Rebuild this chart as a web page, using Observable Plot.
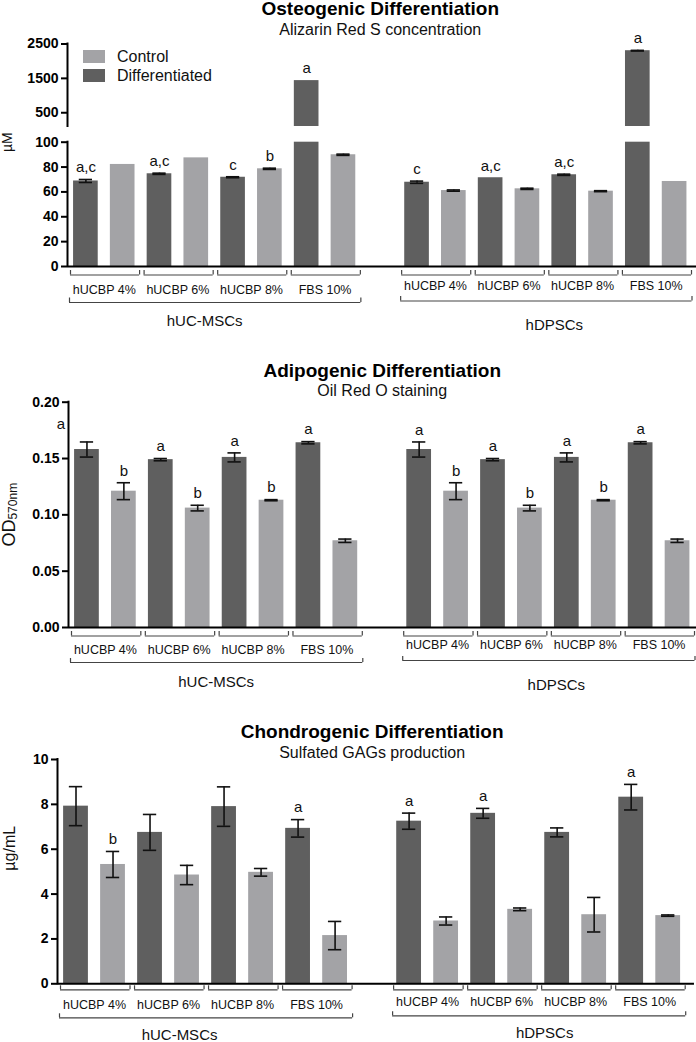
<!DOCTYPE html>
<html>
<head>
<meta charset="utf-8">
<script src="https://cdn.jsdelivr.net/npm/d3@7"></script>
<script src="https://cdn.jsdelivr.net/npm/@observablehq/plot@0.6"></script>
<style>
  body { margin: 0; background: #fff; }
  #wrap { position: relative; width: 696px; font-family: "Liberation Sans", Arial, Helvetica, sans-serif; }
  #wrap svg { display: block; }
  #wrap g[aria-label="y-axis tick label"] text { font-weight: bold; }
  .legend { position: absolute; left: 83px; top: 47px; font-size: 16px; color: #111; }
  .legend .row { display: flex; align-items: center; height: 19px; }
  .legend .sw { display: inline-block; width: 22px; height: 13px; margin-right: 12px; }
</style>
</head>
<body>
<div id="wrap"></div>
<script>
// ---------- categories ----------
const conditions = ["hUCBP 4%", "hUCBP 6%", "hUCBP 8%", "FBS 10%"];
const cellTypes = ["hUC-MSCs", "hDPSCs"];
const treatments = ["Differentiated", "Control"];

// ---------- Osteogenic: Alizarin Red S concentration (µM) ----------
const osteoUcDiff = [68.8, 74.6, 71.8, 1435];
const osteoUcDiffErr = [1.2, 0.5, 0.4, 0];
const osteoUcCtrl = [82.1, 87.4, 78.6, 89.9];
const osteoUcCtrlErr = [0, 0, 0.5, 0.5];
const osteoDpDiff = [67.8, 71.4, 73.8, 2305];
const osteoDpDiffErr = [0.9, 0, 0.5, 10];
const osteoDpCtrl = [61.1, 62.5, 60.6, 68.4];
const osteoDpCtrlErr = [0.5, 0.5, 0.4, 0];
const osteoUcDiffSig = ["a,c", "a,c", "c", "a"];
const osteoUcCtrlSig = ["", "", "b", ""];
const osteoDpDiffSig = ["c", "a,c", "a,c", "a"];
const osteoDpCtrlSig = ["", "", "", ""];
const osteoTicksLow = [0, 20, 40, 60, 80, 100];
const osteoTicksHigh = [500, 1500, 2500];

// ---------- Adipogenic: Oil Red O staining (OD570nm) ----------
const adipoUcDiff = [0.158, 0.149, 0.151, 0.164];
const adipoUcDiffErr = [0.0067, 0.001, 0.004, 0.001];
const adipoUcCtrl = [0.121, 0.106, 0.113, 0.077];
const adipoUcCtrlErr = [0.0075, 0.0025, 0.0005, 0.0015];
const adipoDpDiff = [0.158, 0.149, 0.151, 0.164];
const adipoDpDiffErr = [0.0067, 0.001, 0.004, 0.001];
const adipoDpCtrl = [0.121, 0.106, 0.113, 0.077];
const adipoDpCtrlErr = [0.0075, 0.0025, 0.0005, 0.0015];
const adipoUcDiffSig = ["a", "a", "a", "a"];
const adipoUcCtrlSig = ["b", "b", "b", ""];
const adipoDpDiffSig = ["a", "a", "a", "a"];
const adipoDpCtrlSig = ["b", "b", "b", ""];
const adipoTicks = [0, 0.05, 0.10, 0.15, 0.20];

// ---------- Chondrogenic: Sulfated GAGs production (µg/mL) ----------
const chondroUcDiff = [7.92, 6.75, 7.90, 6.93];
const chondroUcDiffErr = [0.87, 0.80, 0.88, 0.39];
const chondroUcCtrl = [5.32, 4.85, 4.97, 2.15];
const chondroUcCtrlErr = [0.58, 0.43, 0.17, 0.63];
const chondroDpDiff = [7.25, 7.60, 6.75, 8.32];
const chondroDpDiffErr = [0.36, 0.22, 0.20, 0.57];
const chondroDpCtrl = [2.80, 3.32, 3.08, 3.04];
const chondroDpCtrlErr = [0.18, 0.06, 0.77, 0.03];
const chondroUcDiffSig = ["", "", "", "a"];
const chondroUcCtrlSig = ["b", "", "", ""];
const chondroDpDiffSig = ["a", "a", "", "a"];
const chondroDpCtrlSig = ["", "", "", ""];
const chondroTicks = [0, 2, 4, 6, 8, 10];

// ---------- styling ----------
const DARK = "#5f5f5f";
const LIGHT = "#a3a3a6";
const FONT = "Liberation Sans, Arial, Helvetica, sans-serif";
const BRACKET = "#444";

function panel(cfg) {
  const rows = [];
  cellTypes.forEach((cell, g) => {
    conditions.forEach((cond, c) => {
      treatments.forEach((tr, t) => {
        const s = cfg.series[g][t];
        rows.push({cell, cond, treatment: tr, g, c, t, slot: g * 9 + c * 2 + t, v: s.v[c], e: s.e[c], sig: s.sig[c]});
      });
    });
  });
  const [lo, hi] = cfg.yDomain;
  const inSeg = d => (lo === 0 ? d.v >= 0 : d.v > lo) && d.v <= hi;
  const segs = rows.filter(d => d.v > lo).map(d => ({...d, y1: lo, y2: Math.min(d.v, hi)}));
  const errRows = rows.filter(d => d.e > 0 && inSeg(d));
  const isShift = d => cfg.sigShift && d.g === cfg.sigShift.g && d.c === cfg.sigShift.c && d.t === cfg.sigShift.t;
  const sigRows = rows.filter(d => d.sig && inSeg(d) && !isShift(d));
  const shiftRows = rows.filter(d => d.sig && inSeg(d) && isShift(d));

  const bw = 0.335, cap = 0.18;
  const marks = [
    Plot.rect(segs, {x1: d => d.slot - bw, x2: d => d.slot + bw, y1: "y1", y2: "y2", fill: "treatment"}),
    Plot.ruleX(errRows, {x: "slot", y1: d => d.v - d.e, y2: d => d.v + d.e, stroke: "#111", strokeWidth: 1.6}),
    Plot.ruleY(errRows, {y: d => d.v + d.e, x1: d => d.slot - cap, x2: d => d.slot + cap, stroke: "#111", strokeWidth: 1.6}),
    Plot.ruleY(errRows, {y: d => d.v - d.e, x1: d => d.slot - cap, x2: d => d.slot + cap, stroke: "#111", strokeWidth: 1.6}),
    Plot.text(sigRows, {x: "slot", y: d => d.v + d.e, text: "sig", dy: -12, fontSize: 15, lineAnchor: "middle", fill: "#111"}),
    Plot.text(shiftRows, {x: "slot", y: d => d.v + d.e, text: "sig", dx: cfg.sigShift ? cfg.sigShift.dx : 0, dy: cfg.sigShift ? cfg.sigShift.dy : 0, fontSize: 15, lineAnchor: "middle", fill: "#111"}),
    // y axis (line + ticks)
    Plot.ruleX([{y1: lo, y2: hi}], {x: -0.5, y1: "y1", y2: "y2", stroke: "#000", strokeWidth: 2, strokeLinecap: "square"}),
    Plot.axisY({ticks: cfg.ticks, tickFormat: cfg.tickFormat, tickSize: 6, tickPadding: 3, strokeWidth: 2, fontSize: 14, fontWeight: "bold", label: null})
  ];
  if (cfg.title) {
    marks.push(
      Plot.text([cfg.title], {frameAnchor: "top", dy: cfg.titleY - cfg.marginTop, fontSize: 19, fontWeight: "bold", lineAnchor: "middle", fill: "#000"}),
      Plot.text([cfg.subtitle], {frameAnchor: "top", dy: cfg.subtitleY - cfg.marginTop, fontSize: 16, lineAnchor: "middle", fill: "#111"})
    );
  }
  if (cfg.base) {
    const pairs = cellTypes.flatMap((cell, g) => conditions.map((cond, c) => ({g, cell, cond, a: g * 9 + c * 2 - 0.5, b: g * 9 + c * 2 + 1.5, mid: g * 9 + c * 2 + 0.5})));
    const groups = cellTypes.map((cell, g) => ({g, cell, a: g * 9 - 0.5, b: g * 9 + 7.5, mid: g * 9 + 3.5}));
    marks.push(Plot.ruleY([0], {x1: -0.5, x2: cfg.xEnd, stroke: "#000", strokeWidth: 2}));
    marks.push(...cfg.yLabel);
    cellTypes.forEach((cell, g) => {
      const o = cfg.off[g];
      const P = pairs.filter(d => d.g === g);
      const G = groups.filter(d => d.g === g);
      marks.push(
        Plot.ruleY(P, {y: 0, x1: "a", x2: "b", dy: o.condLine, insetLeft: 3, insetRight: 1.5, stroke: BRACKET, strokeWidth: 1.2}),
        Plot.ruleX(P, {x: "a", y1: 0, y2: 0, dx: 3, insetTop: o.condTop, insetBottom: -o.condLine, stroke: BRACKET, strokeWidth: 1.2}),
        Plot.ruleX(P, {x: "b", y1: 0, y2: 0, dx: -1.5, insetTop: o.condTop, insetBottom: -o.condLine, stroke: BRACKET, strokeWidth: 1.2}),
        Plot.text(P, {x: "mid", y: 0, text: "cond", dy: o.condText, fontSize: 12.5, lineAnchor: "middle", fill: "#111"}),
        Plot.ruleY(G, {y: 0, x1: "a", x2: "b", dy: o.grpLine, insetLeft: 2, insetRight: 1, stroke: BRACKET, strokeWidth: 1.2}),
        Plot.ruleX(G, {x: "a", y1: 0, y2: 0, dx: 2, insetTop: o.grpTop, insetBottom: -o.grpLine, stroke: BRACKET, strokeWidth: 1.2}),
        Plot.ruleX(G, {x: "b", y1: 0, y2: 0, dx: -1, insetTop: o.grpTop, insetBottom: -o.grpLine, stroke: BRACKET, strokeWidth: 1.2}),
        Plot.text(G, {x: "mid", y: 0, text: "cell", dx: o.grpDx, dy: o.grpText, fontSize: 15, lineAnchor: "middle", fill: "#111"})
      );
    });
  }

  return Plot.plot({
    width: 696,
    height: cfg.height,
    marginLeft: cfg.marginLeft,
    marginRight: cfg.marginRight,
    marginTop: cfg.marginTop,
    marginBottom: cfg.height - cfg.yRange[0],
    style: {fontFamily: FONT, fontSize: "14px", background: "#fff", overflow: "visible"},
    x: {domain: [-0.5, 16.5], axis: null},
    y: {domain: cfg.yDomain, range: cfg.yRange},
    color: {domain: treatments, range: [DARK, LIGHT]},
    marks
  });
}

const wrap = document.getElementById("wrap");

const osteoSeries = [
  [{v: osteoUcDiff, e: osteoUcDiffErr, sig: osteoUcDiffSig}, {v: osteoUcCtrl, e: osteoUcCtrlErr, sig: osteoUcCtrlSig}],
  [{v: osteoDpDiff, e: osteoDpDiffErr, sig: osteoDpDiffSig}, {v: osteoDpCtrl, e: osteoDpCtrlErr, sig: osteoDpCtrlSig}]
];

// Panel 1 — Osteogenic, upper segment of the broken axis (100–2500)
wrap.appendChild(panel({
  series: osteoSeries,
  ticks: osteoTicksHigh,
  tickFormat: d => String(d),
  yDomain: [100, 2500],
  yRange: [126, 43.5],
  height: 134, marginLeft: 67, marginRight: 3.5, marginTop: 43.5,
  title: "Osteogenic Differentiation", subtitle: "Alizarin Red S concentration",
  titleY: 8.5, subtitleY: 29
}));

// Panel 1 — Osteogenic, lower segment (0–100)
wrap.appendChild(panel({
  series: osteoSeries,
  ticks: osteoTicksLow,
  tickFormat: d => String(d),
  yDomain: [0, 100],
  yRange: [132, 7.7],
  height: 211, marginLeft: 67, marginRight: 3.5, marginTop: 7.7, xEnd: 16.6,
  base: true,
  yLabel: [Plot.text(["µM"], {frameAnchor: "left", rotate: -90, dx: -60, dy: -52.4, fontSize: 14, lineAnchor: "middle", fill: "#111"})],
  off: [
    {condTop: 4, condLine: 8.5, condText: 23.5, grpTop: 31.5, grpLine: 36, grpText: 55, grpDx: -10},
    {condTop: 4, condLine: 8.5, condText: 19.5, grpTop: 30, grpLine: 34.5, grpText: 59, grpDx: 8.5}
  ]
}));

// Panel 2 — Adipogenic
wrap.appendChild(panel({
  series: [
    [{v: adipoUcDiff, e: adipoUcDiffErr, sig: adipoUcDiffSig}, {v: adipoUcCtrl, e: adipoUcCtrlErr, sig: adipoUcCtrlSig}],
    [{v: adipoDpDiff, e: adipoDpDiffErr, sig: adipoDpDiffSig}, {v: adipoDpCtrl, e: adipoDpCtrlErr, sig: adipoDpCtrlSig}]
  ],
  ticks: adipoTicks,
  tickFormat: d3.format(".2f"),
  yDomain: [0, 0.2],
  yRange: [282, 56.7],
  height: 355, marginLeft: 68, marginRight: 0.5, marginTop: 56.7, xEnd: 16.55,
  base: true,
  title: "Adipogenic Differentiation", subtitle: "Oil Red O staining",
  titleY: 25, subtitleY: 45.8,
  sigShift: {g: 0, c: 0, t: 0, dx: -26, dy: -18},
  yLabel: [
    Plot.text(["OD"], {frameAnchor: "left", rotate: -90, dx: -59.5, dy: 4.7, textAnchor: "end", fontSize: 18, lineAnchor: "middle", fill: "#111"}),
    Plot.text(["570nm"], {frameAnchor: "left", rotate: -90, dx: -55, dy: 4.7, textAnchor: "start", fontSize: 12, lineAnchor: "middle", fill: "#111"})
  ],
  off: [
    {condTop: 4, condLine: 8.5, condText: 22.5, grpTop: 31, grpLine: 35, grpText: 55, grpDx: 0},
    {condTop: 4, condLine: 8.5, condText: 17.5, grpTop: 29, grpLine: 33, grpText: 58, grpDx: 8}
  ]
}));

// Panel 3 — Chondrogenic
wrap.appendChild(panel({
  series: [
    [{v: chondroUcDiff, e: chondroUcDiffErr, sig: chondroUcDiffSig}, {v: chondroUcCtrl, e: chondroUcCtrlErr, sig: chondroUcCtrlSig}],
    [{v: chondroDpDiff, e: chondroDpDiffErr, sig: chondroDpDiffSig}, {v: chondroDpCtrl, e: chondroDpCtrlErr, sig: chondroDpCtrlSig}]
  ],
  ticks: chondroTicks,
  tickFormat: d => String(d),
  yDomain: [0, 10],
  yRange: [283.3, 59],
  height: 342, marginLeft: 57, marginRight: 9.8, marginTop: 59, xEnd: 16.71,
  base: true,
  title: "Chondrogenic Differentiation", subtitle: "Sulfated GAGs production",
  titleY: 31.7, subtitleY: 52.5,
  yLabel: [Plot.text(["µg/mL"], {frameAnchor: "left", rotate: -90, dx: -48, dy: -1, fontSize: 16, lineAnchor: "middle", fill: "#111"})],
  off: [
    {condTop: 2, condLine: 6, condText: 21, grpTop: 30, grpLine: 34, grpText: 51, grpDx: -26},
    {condTop: 2, condLine: 6, condText: 18, grpTop: 28, grpLine: 32, grpText: 49, grpDx: 6}
  ]
}));

// Legend (panel 1, top-left inside the plot)
const legend = document.createElement("div");
legend.className = "legend";
[["Control", LIGHT], ["Differentiated", DARK]].forEach(([name, col]) => {
  const row = document.createElement("div");
  row.className = "row";
  const sw = document.createElement("span");
  sw.className = "sw";
  sw.style.background = col;
  row.appendChild(sw);
  row.appendChild(document.createTextNode(name));
  legend.appendChild(row);
});
wrap.appendChild(legend);
</script>
</body>
</html>
